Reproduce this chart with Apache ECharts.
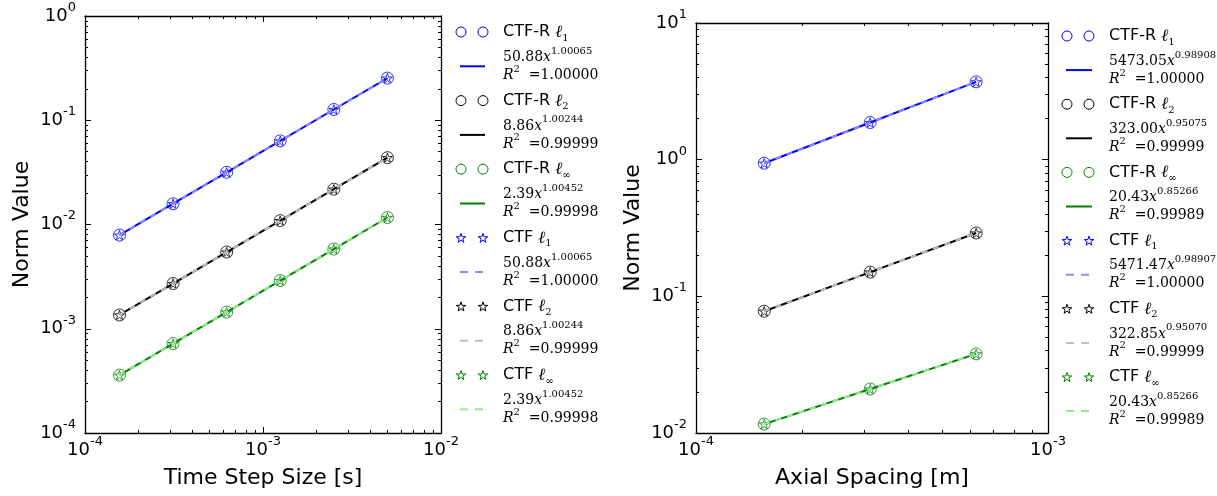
<!DOCTYPE html>
<html><head><meta charset="utf-8">
<script src="https://cdn.jsdelivr.net/npm/echarts@6/dist/echarts.min.js"></script>
<style>html,body{margin:0;padding:0;background:#fff}#c{width:1217px;height:496px}</style>
</head><body><div id="c"></div>
<script>
// ---------------- data ----------------
const normSubs = ['1', '2', '∞'];
const solidColors = ['#0000ff', '#000000', '#008000'];
const lightColors = ['#8c8cff', '#bfbfbf', '#90ee90'];

// left panel: time step convergence
const leftX = [1.5625e-4, 3.125e-4, 6.25e-4, 1.25e-3, 2.5e-3, 5e-3];
const leftCtfR_L1 = [7.91e-3, 1.583e-2, 3.167e-2, 6.34e-2, 0.1268, 0.2537];
const leftCtfR_L2 = [1.356e-3, 2.716e-3, 5.442e-3, 1.090e-2, 2.184e-2, 4.376e-2];
const leftCtfR_Linf = [3.59e-4, 7.20e-4, 1.445e-3, 2.899e-3, 5.816e-3, 1.167e-2];
const leftCtf_L1 = [7.91e-3, 1.583e-2, 3.167e-2, 6.34e-2, 0.1268, 0.2537];
const leftCtf_L2 = [1.356e-3, 2.716e-3, 5.442e-3, 1.090e-2, 2.184e-2, 4.376e-2];
const leftCtf_Linf = [3.59e-4, 7.20e-4, 1.445e-3, 2.899e-3, 5.816e-3, 1.167e-2];
const leftCtfR_Coef = ['50.88', '8.86', '2.39'];
const leftCtfR_Exp = ['1.00065', '1.00244', '1.00452'];
const leftCtfR_R2 = ['1.00000', '0.99999', '0.99998'];
const leftCtf_Coef = ['50.88', '8.86', '2.39'];
const leftCtf_Exp = ['1.00065', '1.00244', '1.00452'];
const leftCtf_R2 = ['1.00000', '0.99999', '0.99998'];
const leftXRange = [1e-4, 1e-2];
const leftYRange = [1e-4, 1];

// right panel: axial spacing convergence
const rightX = [1.5625e-4, 3.125e-4, 6.25e-4];
const rightCtfR_L1 = [0.942, 1.870, 3.711];
const rightCtfR_L2 = [0.0778, 0.1504, 0.2907];
const rightCtfR_Linf = [0.01162, 0.02099, 0.03791];
const rightCtf_L1 = [0.942, 1.869, 3.709];
const rightCtf_L2 = [0.0778, 0.1504, 0.2906];
const rightCtf_Linf = [0.01162, 0.02099, 0.03791];
const rightCtfR_Coef = ['5473.05', '323.00', '20.43'];
const rightCtfR_Exp = ['0.98908', '0.95075', '0.85266'];
const rightCtfR_R2 = ['1.00000', '0.99999', '0.99989'];
const rightCtf_Coef = ['5471.47', '322.85', '20.43'];
const rightCtf_Exp = ['0.98907', '0.95070', '0.85266'];
const rightCtf_R2 = ['1.00000', '0.99999', '0.99989'];
const rightXRange = [1e-4, 1e-3];
const rightYRange = [1e-2, 10];

const xNames = ['Time Step Size [s]', 'Axial Spacing [m]'];
const yName = 'Norm Value';

// ---------------- layout ----------------
const panels = [
  { grid: { left: 85, top: 16, width: 356, height: 417 }, xRange: leftXRange, yRange: leftYRange, xs: leftX,
    ctfr: [leftCtfR_L1, leftCtfR_L2, leftCtfR_Linf], ctf: [leftCtf_L1, leftCtf_L2, leftCtf_Linf],
    ctfrFit: [leftCtfR_Coef, leftCtfR_Exp, leftCtfR_R2], ctfFit: [leftCtf_Coef, leftCtf_Exp, leftCtf_R2],
    legend: { x1: 461, x2: 483, lx1: 460, lx2: 485, tx: 503, y0: 32, step: 34.3 } },
  { grid: { left: 696, top: 23, width: 352, height: 410 }, xRange: rightXRange, yRange: rightYRange, xs: rightX,
    ctfr: [rightCtfR_L1, rightCtfR_L2, rightCtfR_Linf], ctf: [rightCtf_L1, rightCtf_L2, rightCtf_Linf],
    ctfrFit: [rightCtfR_Coef, rightCtfR_Exp, rightCtfR_R2], ctfFit: [rightCtf_Coef, rightCtf_Exp, rightCtf_R2],
    legend: { x1: 1067, x2: 1089, lx1: 1066, lx2: 1092, tx: 1109, y0: 36, step: 34.1 } }
];

const STAR = 'path://M10,0L12.245,6.91L19.51,6.91L13.63,11.18L15.88,18.09L10,13.82L4.12,18.09L6.37,11.18L0.49,6.91L7.755,6.91Z';

const tickRich = {
  b: { fontFamily: 'DejaVu Sans', fontSize: 18, color: '#000', lineHeight: 24, verticalAlign: 'bottom' },
  s: { fontFamily: 'DejaVu Sans', fontSize: 13, color: '#000', verticalAlign: 'top' }
};
function powLabel(v) {
  const e = Math.round(Math.log10(v));
  return '{b|10}{s|' + e + '}';
}
function logRange(r) { return [Math.round(Math.log10(r[0])), Math.round(Math.log10(r[1]))]; }
function majorVals(lr) { const a = []; for (let d = lr[0]; d <= lr[1]; d++) a.push(d); return a; }
function minorVals(lr) { const a = []; for (let d = lr[0]; d < lr[1]; d++) for (let k = 2; k <= 9; k++) a.push(d + Math.log10(k)); return a; }

const AX = { color: '#000', width: 1.3 };
function overlay(gi, pos, lr, vals, len, showLine) {
  return {
    type: 'value', gridIndex: gi, position: pos, min: lr[0], max: lr[1], silent: true,
    axisLine: { show: showLine, onZero: false, lineStyle: AX },
    axisTick: { show: true, inside: true, length: len, customValues: vals, lineStyle: { color: '#000', width: 1 } },
    axisLabel: { show: false }, splitLine: { show: false }, minorTick: { show: false }
  };
}

const grids = [], xAxes = [], yAxes = [], series = [], graphics = [];
let zc = 3;
panels.forEach((p, gi) => {
  grids.push(p.grid);
  const lx = logRange(p.xRange), ly = logRange(p.yRange);
  const mx = xAxes.length, my = yAxes.length;
  xAxes.push({
    type: 'log', logBase: 10, gridIndex: gi, position: 'bottom', min: p.xRange[0], max: p.xRange[1],
    name: xNames[gi], nameLocation: 'middle', nameGap: 34,
    nameTextStyle: { fontFamily: 'DejaVu Sans', fontSize: 22, color: '#000' },
    axisLine: { show: true, onZero: false, lineStyle: AX },
    axisTick: { show: true, inside: true, length: 6, lineStyle: { color: '#000', width: 1 } },
    axisLabel: { formatter: powLabel, margin: 2, rich: tickRich, color: '#000' },
    splitLine: { show: false }
  });
  xAxes.push(overlay(gi, 'bottom', lx, minorVals(lx), 3, false));
  xAxes.push(overlay(gi, 'top', lx, majorVals(lx), 6, true));
  xAxes.push(overlay(gi, 'top', lx, minorVals(lx), 3, false));
  yAxes.push({
    type: 'log', logBase: 10, gridIndex: gi, position: 'left', min: p.yRange[0], max: p.yRange[1],
    name: yName, nameLocation: 'middle', nameGap: 52,
    nameTextStyle: { fontFamily: 'DejaVu Sans', fontSize: 22, color: '#000' },
    axisLine: { show: true, onZero: false, lineStyle: AX },
    axisTick: { show: true, inside: true, length: 6, lineStyle: { color: '#000', width: 1 } },
    axisLabel: { formatter: powLabel, margin: 9, rich: tickRich, color: '#000', padding: [0, 0, 6, 0] },
    splitLine: { show: false }
  });
  yAxes.push(overlay(gi, 'left', ly, minorVals(ly), 3, false));
  yAxes.push(overlay(gi, 'right', ly, majorVals(ly), 6, true));
  yAxes.push(overlay(gi, 'right', ly, minorVals(ly), 3, false));

  const pts = ys => p.xs.map((x, i) => [x, ys[i]]);
  for (let k = 0; k < 3; k++) {
    series.push({ type: 'scatter', name: 'CTF-R ℓ' + normSubs[k], xAxisIndex: mx, yAxisIndex: my, data: pts(p.ctfr[k]),
      symbol: 'circle', symbolSize: 12, itemStyle: { color: 'rgba(0,0,0,0)', borderColor: solidColors[k], borderWidth: 1 },
      z: zc++, silent: true });
    series.push({ type: 'line', name: 'CTF-R fit ' + normSubs[k], xAxisIndex: mx, yAxisIndex: my, data: pts(p.ctfr[k]),
      symbol: 'none', showSymbol: false, lineStyle: { color: solidColors[k], width: 2 }, z: zc++, silent: true });
  }
  for (let k = 0; k < 3; k++) {
    series.push({ type: 'scatter', name: 'CTF ℓ' + normSubs[k], xAxisIndex: mx, yAxisIndex: my, data: pts(p.ctf[k]),
      symbol: STAR, symbolSize: 10, symbolKeepAspect: true,
      itemStyle: { color: 'rgba(0,0,0,0)', borderColor: solidColors[k], borderWidth: 1 }, z: zc++, silent: true });
    series.push({ type: 'line', name: 'CTF fit ' + normSubs[k], xAxisIndex: mx, yAxisIndex: my, data: pts(p.ctf[k]),
      symbol: 'none', showSymbol: false, lineStyle: { color: lightColors[k], width: 2, type: [6, 6] }, z: zc++, silent: true });
  }

  // legend (graphic)
  const L = p.legend;
  const legRich = {
    b: { fontFamily: 'DejaVu Sans', fontSize: 16, fill: '#000', lineHeight: 19, verticalAlign: 'top' },
    l: { fontFamily: 'DejaVu Serif', fontStyle: 'italic', fontSize: 17, fill: '#000', verticalAlign: 'top' },
    s: { fontFamily: 'DejaVu Serif', fontSize: 10, fill: '#000', verticalAlign: 'bottom' },
    n: { fontFamily: 'DejaVu Serif', fontSize: 14, fill: '#000', lineHeight: 18, verticalAlign: 'bottom' },
    i: { fontFamily: 'DejaVu Serif', fontStyle: 'italic', fontSize: 14, fill: '#000', lineHeight: 18, verticalAlign: 'bottom' },
    p: { fontFamily: 'DejaVu Serif', fontSize: 10, fill: '#000', verticalAlign: 'top' }
  };
  function starPts(cx, cy, r) {
    const a = [];
    for (let j = 0; j < 10; j++) {
      const ang = -Math.PI / 2 + j * Math.PI / 5;
      const rr = j % 2 === 0 ? r : r * 0.382;
      a.push([cx + rr * Math.cos(ang), cy + rr * Math.sin(ang)]);
    }
    return a;
  }
  function addMarkerRow(row, kind, color, label, sub) {
    const y = L.y0 + row * L.step;
    [L.x1, L.x2].forEach(cx => {
      if (kind === 'circle') graphics.push({ type: 'circle', silent: true, shape: { cx: cx, cy: y, r: 5 }, style: { fill: 'none', stroke: color, lineWidth: 1 } });
      else graphics.push({ type: 'polygon', silent: true, shape: { points: starPts(cx, y + 0.5, 5) }, style: { fill: 'none', stroke: color, lineWidth: 1 } });
    });
    graphics.push({ type: 'text', silent: true, x: L.tx, y: y - 8, style: { text: '{b|' + label + ' }{l|ℓ}{s|' + sub + '}', rich: legRich, verticalAlign: 'top', align: 'left' } });
  }
  function addFitRow(row, color, dashed, coef, exp, r2) {
    const y = L.y0 + row * L.step;
    graphics.push({ type: 'line', silent: true, shape: { x1: L.lx1, y1: y, x2: L.lx2, y2: y },
      style: { stroke: color, lineWidth: 2, lineDash: dashed ? [8, 7] : null } });
    graphics.push({ type: 'text', silent: true, x: L.tx, y: y - 20, style: {
      text: '{n|' + coef + '}{i|x}{p|' + exp + '}\n{i|R}{p|2}{n|  =' + r2 + '}', rich: legRich, verticalAlign: 'top', align: 'left' } });
  }
  for (let k = 0; k < 3; k++) {
    addMarkerRow(2 * k, 'circle', solidColors[k], 'CTF-R', normSubs[k]);
    addFitRow(2 * k + 1, solidColors[k], false, p.ctfrFit[0][k], p.ctfrFit[1][k], p.ctfrFit[2][k]);
  }
  for (let k = 0; k < 3; k++) {
    addMarkerRow(6 + 2 * k, 'star', solidColors[k], 'CTF', normSubs[k]);
    addFitRow(7 + 2 * k, lightColors[k], true, p.ctfFit[0][k], p.ctfFit[1][k], p.ctfFit[2][k]);
  }
});

const chart = echarts.init(document.getElementById('c'), null, { renderer: 'canvas' });
chart.setOption({
  animation: false,
  backgroundColor: '#fff',
  grid: grids,
  xAxis: xAxes,
  yAxis: yAxes,
  series: series,
  graphic: { elements: graphics }
});
</script>
</body></html>
